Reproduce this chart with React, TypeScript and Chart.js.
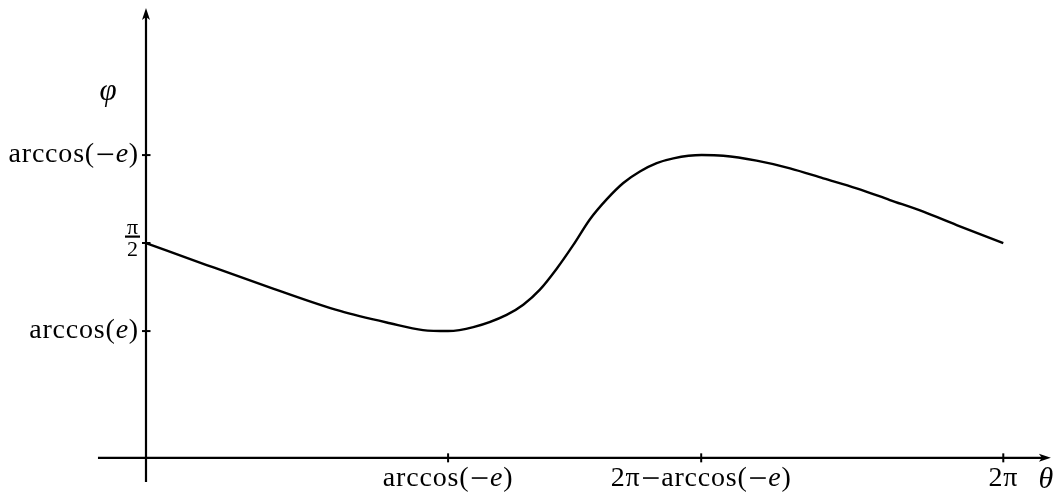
import React, { useEffect, useRef } from 'react';
import { Chart, registerables } from 'chart.js';

Chart.register(...registerables);

// Curve samples (θ in radians, φ in radians)
const thetaValues = [0, 0.445, 0.931, 1.422, 1.788, 2.03, 2.214, 2.399, 2.643, 2.765, 2.887, 3.01, 3.132, 3.254, 3.376, 3.498, 3.62, 3.743, 3.865, 4.072, 4.231, 4.475, 4.72, 4.964, 5.208, 5.452, 5.697, 5.941, 6.283];
const phiValues = [1.571, 1.41, 1.238, 1.074, 0.984, 0.934, 0.927, 0.956, 1.046, 1.12, 1.23, 1.383, 1.557, 1.745, 1.89, 2.01, 2.094, 2.155, 2.19, 2.214, 2.209, 2.173, 2.117, 2.044, 1.971, 1.885, 1.8, 1.702, 1.571];

// Tick positions and labels
const xTickValues = [2.214, 4.069, 6.283];
const xTickLabels = ['arccos(−e)', '2π−arccos(−e)', '2π'];
const yTickValues = [0.927, 1.571, 2.214];
const yTickLabels = ['arccos(e)', 'π/2', 'arccos(−e)'];
const xAxisTitle = 'θ';
const yAxisTitle = 'φ';

const FONT = "'Liberation Serif', 'DejaVu Serif', serif";
const ITALIC = 'eθφ';

function drawRich(ctx: CanvasRenderingContext2D, text: string, x: number, y: number, align: 'left' | 'center' | 'right', size: number, spacing = 0.8) {
  const runs: { t: string; it: boolean; minus: boolean }[] = [];
  for (const ch of text) {
    const it = ITALIC.includes(ch);
    const minus = ch === '−';
    const last = runs[runs.length - 1];
    if (!minus && last && last.it === it && !last.minus) last.t += ch;
    else runs.push({ t: ch, it, minus });
  }
  const fontOf = (it: boolean) => `${it ? 'italic ' : ''}${size}px ${FONT}`;
  const minusW = size * 0.56;
  const minusPad = 2.5;
  (ctx as any).letterSpacing = `${spacing}px`;
  let total = 0;
  const widths = runs.map((r) => {
    let w: number;
    if (r.minus) w = minusW + 2 * minusPad;
    else {
      ctx.font = fontOf(r.it);
      w = ctx.measureText(r.t).width;
    }
    total += w;
    return w;
  });
  let cx = align === 'left' ? x : align === 'center' ? x - total / 2 : x - total;
  ctx.textAlign = 'left';
  ctx.textBaseline = 'middle';
  runs.forEach((r, i) => {
    if (r.minus) {
      ctx.fillRect(cx + minusPad, y - 1.6, minusW, 1.6);
    } else {
      ctx.font = fontOf(r.it);
      ctx.fillText(r.t, cx, y);
    }
    cx += widths[i];
  });
  (ctx as any).letterSpacing = '0px';
}

const axesPlugin = {
  id: 'mathAxes',
  beforeDatasetsDraw(chart: any) {
    const ctx: CanvasRenderingContext2D = chart.ctx;
    const xs = chart.scales.x;
    const ys = chart.scales.y;
    const x0 = xs.getPixelForValue(0);
    const y0 = ys.getPixelForValue(0);
    const xStart = xs.getPixelForValue(-0.352);
    const xEnd = xs.getPixelForValue(6.632);
    const yStart = ys.getPixelForValue(-0.177);
    const yEnd = ys.getPixelForValue(3.289);
    ctx.save();
    ctx.strokeStyle = '#000';
    ctx.fillStyle = '#000';
    ctx.lineWidth = 2.2;
    // x axis
    ctx.beginPath();
    ctx.moveTo(xStart, y0);
    ctx.lineTo(xEnd - 6, y0);
    ctx.stroke();
    ctx.beginPath();
    ctx.moveTo(xEnd, y0);
    ctx.lineTo(xEnd - 12, y0 - 4);
    ctx.lineTo(xEnd - 9, y0);
    ctx.lineTo(xEnd - 12, y0 + 4);
    ctx.closePath();
    ctx.fill();
    // y axis
    ctx.beginPath();
    ctx.moveTo(x0, yStart);
    ctx.lineTo(x0, yEnd + 6);
    ctx.stroke();
    ctx.beginPath();
    ctx.moveTo(x0, yEnd);
    ctx.lineTo(x0 - 4, yEnd + 12);
    ctx.lineTo(x0, yEnd + 9);
    ctx.lineTo(x0 + 4, yEnd + 12);
    ctx.closePath();
    ctx.fill();
    // ticks
    ctx.lineWidth = 2;
    xTickValues.forEach((v) => {
      const px = xs.getPixelForValue(v);
      ctx.beginPath();
      ctx.moveTo(px, y0 - 4.5);
      ctx.lineTo(px, y0 + 4.5);
      ctx.stroke();
    });
    yTickValues.forEach((v) => {
      const py = ys.getPixelForValue(v);
      ctx.beginPath();
      ctx.moveTo(x0 - 4, py);
      ctx.lineTo(x0 + 4.5, py);
      ctx.stroke();
    });
    // tick labels
    const size = 28;
    xTickValues.forEach((v, i) => {
      const px = xs.getPixelForValue(v);
      drawRich(ctx, xTickLabels[i], px, y0 + 21, 'center', size);
    });
    yTickValues.forEach((v, i) => {
      const py = ys.getPixelForValue(v);
      const label = yTickLabels[i];
      if (label.includes('/')) {
        const [num, den] = label.split('/');
        const cx = x0 - 13.5;
        ctx.font = `22px ${FONT}`;
        ctx.textAlign = 'center';
        ctx.textBaseline = 'middle';
        ctx.fillText(num, cx, py - 15);
        ctx.fillText(den, cx, py + 7);
        ctx.fillRect(cx - 7.5, py - 7.5, 15, 2.2);
      } else {
        drawRich(ctx, label, x0 - 7, py, 'right', size);
      }
    });
    // axis titles
    drawRich(ctx, xAxisTitle, xEnd - 5, y0 + 22, 'center', 30, 0);
    drawRich(ctx, yAxisTitle, x0 - 38, ys.getPixelForValue(2.68), 'center', 31, 0);
    ctx.restore();
  },
};

export default function App() {
  const canvasRef = useRef<HTMLCanvasElement | null>(null);
  useEffect(() => {
    if (!canvasRef.current) return;
    const chart = new Chart(canvasRef.current, {
      type: 'scatter',
      data: {
        datasets: [
          {
            data: thetaValues.map((t, i) => ({ x: t, y: phiValues[i] })),
            showLine: true,
            borderColor: '#000',
            borderWidth: 2.4,
            pointRadius: 0,
            cubicInterpolationMode: 'monotone',
            fill: false,
          } as any,
        ],
      },
      options: {
        animation: false,
        responsive: false,
        layout: { padding: 0 },
        plugins: { legend: { display: false }, tooltip: { enabled: false } },
        scales: {
          x: { type: 'linear', display: false, min: -1.07, max: 6.706 },
          y: { type: 'linear', display: false, min: -0.301, max: 3.348 },
        },
      },
      plugins: [axesPlugin],
    });
    return () => chart.destroy();
  }, []);
  return (
    <div style={{ position: 'fixed', left: 0, top: 0, width: 1061, height: 499, background: '#fff' }}>
      <canvas ref={canvasRef} width={1061} height={499} style={{ width: 1061, height: 499 }} />
    </div>
  );
}
